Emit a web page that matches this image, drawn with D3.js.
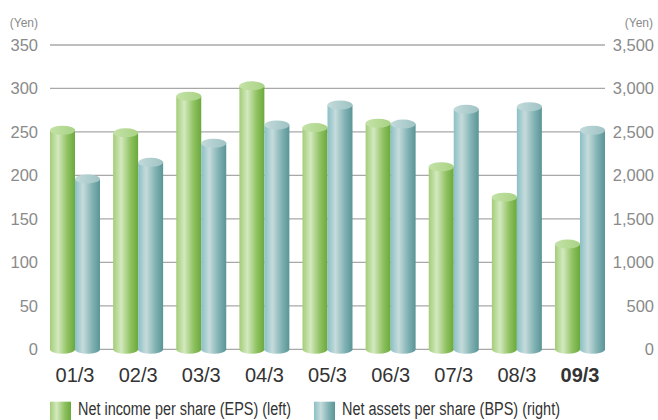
<!DOCTYPE html>
<html>
<head>
<meta charset="utf-8">
<script src="https://cdn.jsdelivr.net/npm/d3@7"></script>
<style>
  html, body { margin: 0; padding: 0; background: #fff; }
  svg { display: block; }
</style>
</head>
<body>
<div class="chart"></div>
<script>
let width = 658
let height = 420

let years = ['01/3', '02/3', '03/3', '04/3', '05/3', '06/3', '07/3', '08/3', '09/3']
let eps = [252, 249, 291, 303, 255, 260, 210, 175, 121]
let bps = [1960, 2150, 2370, 2580, 2810, 2590, 2760, 2790, 2520]
let left_ticks = [0, 50, 100, 150, 200, 250, 300, 350]
let right_ticks = [0, 500, 1000, 1500, 2000, 2500, 3000, 3500]
let series_names = ['Net income per share (EPS) (left)', 'Net assets per share (BPS) (right)']

let plot_left = 50
let plot_right = 605

let x0 = d3.scaleBand()
    .domain(years)
    .range([plot_left, plot_right])
    .paddingInner(0.208)
    .paddingOuter(0)

let x1 = d3.scaleBand()
    .domain([0, 1])
    .range([0, x0.bandwidth()])

let yLeft = d3.scaleLinear().domain([0, 350]).range([349.3, 45])
let yRight = d3.scaleLinear().domain([0, 3500]).range([349.3, 45])

const svg = d3.create("svg")
    .attr("width", width)
    .attr("height", height)
    .attr("font-family", "'Liberation Sans', Arial, sans-serif")

const defs = svg.append("defs")

// body + top gradients for the two cylinder colours
let palettes = [
    { body: ['#a3cd78', '#d3e9bf', '#8fc160', '#6aa93c'], top: ['#c4e2a8', '#a9d384'] },
    { body: ['#8ac0c6', '#c6dbdb', '#80b1b3', '#5a9596'], top: ['#c3dada', '#9fc3c4'] }
]
palettes.forEach((p, i) => {
    let g = defs.append("linearGradient").attr("id", "body" + i)
    g.append("stop").attr("offset", "0%").attr("stop-color", p.body[0])
    g.append("stop").attr("offset", "32%").attr("stop-color", p.body[1])
    g.append("stop").attr("offset", "70%").attr("stop-color", p.body[2])
    g.append("stop").attr("offset", "100%").attr("stop-color", p.body[3])
    let t = defs.append("linearGradient").attr("id", "top" + i)
    t.append("stop").attr("offset", "0%").attr("stop-color", p.top[0])
    t.append("stop").attr("offset", "100%").attr("stop-color", p.top[1])
})

// gridlines
svg.append("g")
    .selectAll("line")
    .data(left_ticks)
    .join("line")
    .attr("x1", plot_left)
    .attr("x2", plot_right)
    .attr("y1", d => yLeft(d))
    .attr("y2", d => yLeft(d))
    .attr("stroke", "#a8a8a8")
    .attr("stroke-width", 1.3)

// axis labels
svg.append("g")
    .attr("fill", "#8a8a8a")
    .attr("font-size", 16.5)
    .attr("text-anchor", "end")
    .selectAll("text")
    .data(left_ticks)
    .join("text")
    .attr("x", 38)
    .attr("y", d => yLeft(d))
    .attr("dy", "0.36em")
    .text(d => d)

svg.append("g")
    .attr("fill", "#8a8a8a")
    .attr("font-size", 16.5)
    .attr("text-anchor", "end")
    .selectAll("text")
    .data(right_ticks)
    .join("text")
    .attr("x", 654)
    .attr("y", d => yRight(d))
    .attr("dy", "0.36em")
    .text(d => d3.format(",")(d))

svg.append("text")
    .attr("x", 38).attr("y", 27)
    .attr("text-anchor", "end")
    .attr("fill", "#8a8a8a")
    .attr("font-size", 12)
    .text("(Yen)")

svg.append("text")
    .attr("x", 653).attr("y", 27)
    .attr("text-anchor", "end")
    .attr("fill", "#8a8a8a")
    .attr("font-size", 12)
    .text("(Yen)")

// cylinders
let bars = []
years.forEach((yr, i) => {
    bars.push({ year: yr, s: 0, y: yLeft(eps[i]) })
    bars.push({ year: yr, s: 1, y: yRight(bps[i]) })
})

let ry = 4.5
let base = yLeft(0)

const cyl = svg.append("g")
    .selectAll("g")
    .data(bars)
    .join("g")

cyl.append("path")
    .attr("fill", d => `url(#body${d.s})`)
    .attr("d", d => {
        let x = x0(d.year) + x1(d.s)
        let w = x1.bandwidth()
        return `M${x},${d.y} L${x},${base} A${w / 2},${ry} 0 0 0 ${x + w},${base} L${x + w},${d.y} Z`
    })

cyl.append("ellipse")
    .attr("fill", d => `url(#top${d.s})`)
    .attr("cx", d => x0(d.year) + x1(d.s) + x1.bandwidth() / 2)
    .attr("cy", d => d.y)
    .attr("rx", x1.bandwidth() / 2)
    .attr("ry", ry)

// category labels
svg.append("g")
    .attr("fill", "#333")
    .attr("font-size", 20)
    .attr("text-anchor", "middle")
    .selectAll("text")
    .data(years)
    .join("text")
    .attr("x", d => x0(d) + x0.bandwidth() / 2)
    .attr("y", 381.7)
    .attr("font-weight", d => d === '09/3' ? "bold" : null)
    .text(d => d)

// legend (condensed look via textLength)
let legend_x = [50, 314]
let legend_len = [213, 218]
const legend = svg.append("g")
    .selectAll("g")
    .data(series_names)
    .join("g")

legend.append("rect")
    .attr("x", (d, i) => legend_x[i])
    .attr("y", 401.7)
    .attr("width", 21)
    .attr("height", 20)
    .attr("fill", (d, i) => `url(#body${i})`)

legend.append("text")
    .attr("x", (d, i) => legend_x[i] + 28)
    .attr("y", 415)
    .attr("fill", "#333")
    .attr("font-size", 18)
    .attr("textLength", (d, i) => legend_len[i])
    .attr("lengthAdjust", "spacingAndGlyphs")
    .text(d => d)

d3.select(".chart").node().append(svg.node())
</script>
</body>
</html>
